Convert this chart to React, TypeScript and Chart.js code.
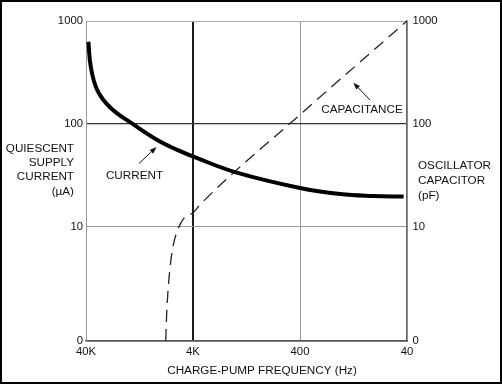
import React, { useEffect, useRef } from 'react';
import { Chart, registerables } from 'chart.js';

Chart.register(...registerables);

// ---- data ----
const xTickValues = [40000, 4000, 400, 40];
const xTickLabels = ['40K', '4K', '400', '40'];
const yTickValues = [0.78, 10, 100, 1000];
const yTickLabels = ['0', '10', '100', '1000'];
const X_MIN = 40;
const X_MAX = 40000;
const Y_MIN = 0.78;
const Y_MAX = 1000;

const currentFreqHz = [38000, 36100, 31300, 23500, 14200, 8630, 5610, 3650, 1560, 400, 169, 83, 43];
const currentMicroAmps = [629, 360, 212, 143, 98, 70, 56, 46.5, 33.7, 23.9, 20.9, 20.0, 19.7];

const capFreqHz = [7195, 7045, 6805, 6460, 6110, 5485, 4930, 3975, 3440, 400, 40];
const capPicoFarads = [0.78, 1.45, 2.63, 4.6, 6.7, 9.7, 11.9, 13.8, 16.4, 123, 1000];

const leftTitle = ['QUIESCENT', 'SUPPLY', 'CURRENT', '(µA)'];
const rightTitle = ['OSCILLATOR', 'CAPACITOR', '(pF)'];
const xTitle = 'CHARGE-PUMP FREQUENCY (Hz)';

const FONT = '"Liberation Sans", Arial, Helvetica, sans-serif';

function arrow(ctx: CanvasRenderingContext2D, x1: number, y1: number, x2: number, y2: number) {
  const ang = Math.atan2(y2 - y1, x2 - x1);
  const hl = 7;
  const hw = 2.6;
  const bx = x2 - hl * Math.cos(ang);
  const by = y2 - hl * Math.sin(ang);
  ctx.beginPath();
  ctx.moveTo(x1, y1);
  ctx.lineTo(bx, by);
  ctx.lineWidth = 1;
  ctx.strokeStyle = '#111';
  ctx.stroke();
  ctx.beginPath();
  ctx.moveTo(x2, y2);
  ctx.lineTo(bx + hw * Math.sin(ang), by - hw * Math.cos(ang));
  ctx.lineTo(bx - hw * Math.sin(ang), by + hw * Math.cos(ang));
  ctx.closePath();
  ctx.fillStyle = '#111';
  ctx.fill();
}

const annotatePlugin = {
  id: 'annotate',
  afterDraw(chart: any) {
    const ctx: CanvasRenderingContext2D = chart.ctx;
    ctx.save();
    ctx.fillStyle = '#111';
    ctx.font = `11.7px ${FONT}`;
    ctx.textBaseline = 'middle';
    ctx.textAlign = 'right';
    leftTitle.forEach((t, i) => ctx.fillText(t, 74, 148.5 + i * 14.3));
    ctx.textAlign = 'left';
    rightTitle.forEach((t, i) => ctx.fillText(t, 418, 165.5 + i * 15));
    ctx.textAlign = 'center';
    ctx.fillText(xTitle, 262, 371);
    ctx.fillText('CURRENT', 134.5, 175.5);
    ctx.fillText('CAPACITANCE', 362, 110);
    arrow(ctx, 139, 163.5, 156.5, 147);
    arrow(ctx, 370, 100, 353.3, 82.7);
    ctx.lineWidth = 2;
    ctx.strokeStyle = '#000';
    ctx.strokeRect(1, 1, 500, 382);
    ctx.restore();
  },
};

export default function App() {
  const ref = useRef<HTMLCanvasElement>(null);

  useEffect(() => {
    document.body.style.margin = '0';
    const canvas = ref.current;
    if (!canvas) return;
    const currentData = currentFreqHz.map((f, i) => ({ x: f, y: currentMicroAmps[i] }));
    const capData = capFreqHz.map((f, i) => ({ x: f, y: capPicoFarads[i] }));
    const tickFont = { family: FONT, size: 11.3 };

    const chart = new Chart(canvas, {
      type: 'line',
      data: {
        datasets: [
          {
            label: 'Current',
            data: currentData,
            yAxisID: 'y',
            borderColor: '#000',
            borderWidth: 4,
            pointRadius: 0,
            tension: 0.4,
            fill: false,
          },
          {
            label: 'Capacitance',
            data: capData,
            yAxisID: 'y2',
            borderColor: '#222',
            borderWidth: 1.3,
            borderDash: [12, 7],
            pointRadius: 0,
            cubicInterpolationMode: 'monotone',
            fill: false,
          },
        ],
      },
      options: {
        animation: false,
        responsive: false,
        maintainAspectRatio: false,
        layout: { padding: { top: 21, left: 0, right: 0, bottom: 0 } },
        plugins: { legend: { display: false }, tooltip: { enabled: false } },
        scales: {
          x: {
            type: 'logarithmic',
            reverse: true,
            min: X_MIN,
            max: X_MAX,
            bounds: 'data',
            afterBuildTicks: (scale: any) => {
              scale.ticks = xTickValues.map((v) => ({ value: v }));
            },
            afterFit: (scale: any) => {
              scale.height = 43;
            },
            ticks: {
              autoSkip: false,
              maxRotation: 0,
              padding: 4,
              color: '#111',
              font: tickFont,
              callback: (v: any) => xTickLabels[xTickValues.indexOf(Number(v))] ?? '',
            },
            grid: {
              drawTicks: false,
              color: (c: any) => {
                const v = c.tick?.value;
                if (v === 4000) return '#1a1a1a';
                if (v === 40) return '#666';
                return '#999';
              },
              lineWidth: (c: any) => {
                const v = c.tick?.value;
                if (v === 4000) return 2;
                if (v === 40) return 1.5;
                return 1;
              },
            },
            border: { color: '#555', width: 1.5 },
          },
          y: {
            type: 'logarithmic',
            position: 'left',
            min: Y_MIN,
            max: Y_MAX,
            bounds: 'data',
            afterBuildTicks: (scale: any) => {
              scale.ticks = yTickValues.map((v) => ({ value: v }));
            },
            afterFit: (scale: any) => {
              scale.width = 86;
            },
            ticks: {
              padding: 3,
              color: '#111',
              font: tickFont,
              callback: (v: any) => yTickLabels[yTickValues.indexOf(Number(v))] ?? '',
            },
            grid: {
              drawTicks: false,
              color: (c: any) => {
                const v = c.tick?.value;
                if (v === 100) return '#333';
                if (v === Y_MIN) return '#555';
                if (v === 1000) return '#aaa';
                return '#999';
              },
              lineWidth: (c: any) => {
                const v = c.tick?.value;
                if (v === 100) return 1.2;
                if (v === Y_MIN) return 1.5;
                return 1;
              },
            },
            border: { color: '#999', width: 1 },
          },
          y2: {
            type: 'logarithmic',
            position: 'right',
            min: Y_MIN,
            max: Y_MAX,
            bounds: 'data',
            afterBuildTicks: (scale: any) => {
              scale.ticks = yTickValues.map((v) => ({ value: v }));
            },
            afterFit: (scale: any) => {
              scale.width = 95;
            },
            ticks: {
              padding: 5.5,
              color: '#111',
              font: tickFont,
              callback: (v: any) => yTickLabels[yTickValues.indexOf(Number(v))] ?? '',
            },
            grid: { display: false, drawTicks: false },
            border: { color: '#666', width: 1.5 },
          },
        },
      },
      plugins: [annotatePlugin],
    } as any);

    return () => chart.destroy();
  }, []);

  return (
    <div style={{ width: 502, height: 384 }}>
      <canvas ref={ref} width={502} height={384} style={{ display: 'block' }} />
    </div>
  );
}
